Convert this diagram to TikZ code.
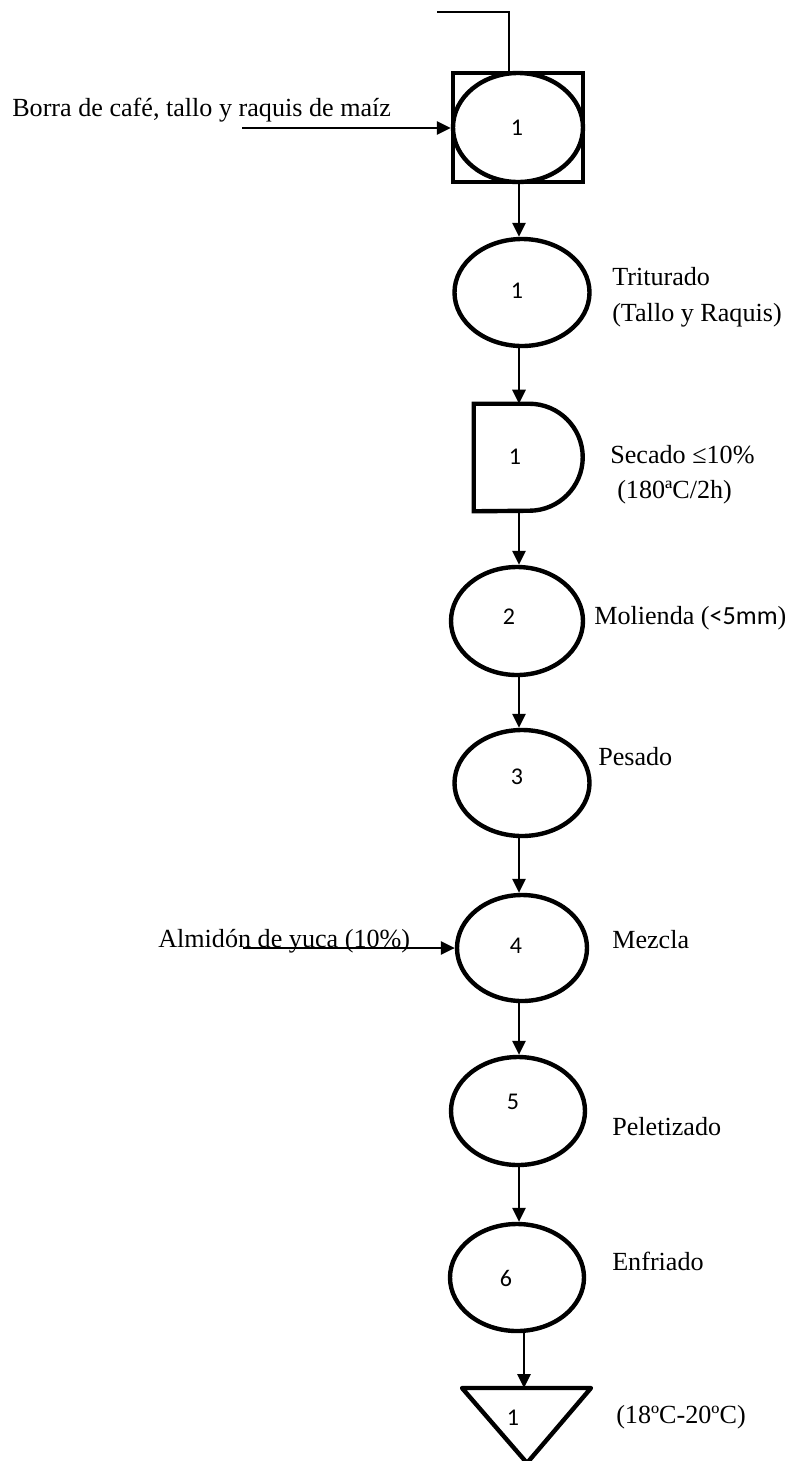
\documentclass[tikz,border=0pt]{standalone}
\usepackage{fontspec}
\setmainfont{Liberation Serif}
\newfontfamily\digitfont{Carlito}
\usetikzlibrary{shapes.geometric,arrows.meta}
\begin{document}
\begin{tikzpicture}[x=0.75pt,y=-0.75pt,
  shapeline/.style={draw, line width=3.3pt},
  opnode/.style={ellipse, shapeline, inner sep=0pt},
  num/.style={font=\digitfont\fontsize{18}{21}\selectfont, inner sep=0pt},
  note/.style={font=\fontsize{19.6}{24}\selectfont, inner sep=0pt, anchor=base west},
  flow/.style={line width=1.3pt, -{Triangle[length=10.5pt,width=10pt]}},
  thin/.style={line width=1.3pt},
]
\useasboundingbox (0,0) rectangle (795,1461);

% vertical guide lines for the connectors
\coordinate (spine) at (519,0);
\coordinate (spineb) at (524,0);
\coordinate (drop) at (509,0);

% combined operation: square with inscribed circle
\node[rectangle, shapeline, minimum width=97.5pt, minimum height=81.75pt, inner sep=0pt] (s0) at (518,127.5) {};
\node[opnode, minimum width=97.5pt, minimum height=81.75pt] (s0c) at (518,127.5) {};
\node[num] (n0) at (517,128) {1};

% operations
\node[opnode, minimum width=101.25pt, minimum height=80.25pt] (e1) at (522,292.5) {};
\node[num] (n1) at (517,291) {1};

% delay (D shape)
\node[minimum width=81.75pt, minimum height=80.25pt, inner sep=0pt] (d1) at (528.5,457.5) {};
\draw[shapeline] (d1.north west) -- ++(55.5,0) arc[start angle=90, end angle=-90, radius=40.125pt] -- (d1.south west) -- cycle;
\node[num] (nd) at (515,457) {1};

\node[opnode, minimum width=99pt, minimum height=81pt] (e2) at (517,621) {};
\node[num] (n2) at (509,617) {2};

\node[opnode, minimum width=101.25pt, minimum height=79.5pt] (e3) at (522,783) {};
\node[num] (n3) at (517,777) {3};

\node[opnode, minimum width=97.5pt, minimum height=79.5pt] (e4) at (522,948) {};
\node[num] (n4) at (516,946) {4};

\node[opnode, minimum width=100.5pt, minimum height=81pt] (e5) at (518,1111) {};
\node[num] (n5) at (513,1102) {5};

\node[opnode, minimum width=100.5pt, minimum height=80.25pt] (e6) at (517,1277.5) {};
\node[num] (n6) at (506,1278) {6};

% storage triangle
\coordinate (t1) at (526.5,1388);
\draw[shapeline, line join=round] (t1) ++(-64.5,0) -- ++(129,0) -- ++(-64,75) -- cycle;
\node[num] (nt) at (513,1418) {1};

% feed line at the top
\coordinate (feed) at (437,12);
\draw[thin] (feed) -| (drop |- s0.north);

% side inputs
\coordinate (in1) at (242,128);
\draw[flow] (in1) -- (in1 -| s0.west);
\coordinate (in2) at (243,948);
\draw[flow] (in2) -- (in2 -| e4.west);

% main flow
\draw[flow] (s0.south -| spine) -- (e1.north -| spine);
\draw[flow] (e1.south -| spine) -- (d1.north -| spine);
\draw[flow] (d1.south -| spine) -- (e2.north -| spine);
\draw[flow] (e2.south -| spine) -- (e3.north -| spine);
\draw[flow] (e3.south -| spine) -- (e4.north -| spine);
\draw[flow] (e4.south -| spine) -- (e5.north -| spine);
\draw[flow] (e5.south -| spine) -- (e6.north -| spine);
\draw[flow] (e6.south -| spineb) -- (t1 -| spineb);

% labels
\node[note] (l0) at (12,116) {Borra de café, tallo y raquis de maíz};
\node[note] (l1a) at (612,285) {Triturado};
\node[note] (l1b) at (612,321) {(Tallo y Raquis)};
\node[note] (l2a) at (610,463) {Secado ≤10\%};
\node[note] (l2b) at (617,498) {(180ªC/2h)};
\node[note] (l3) at (594,624) {Molienda ({\digitfont <5mm})};
\node[note] (l4) at (598,765) {Pesado};
\node[note] (l5in) at (158,947) {Almidón de yuca (10\%)};
\node[note] (l5) at (612,948) {Mezcla};
\node[note] (l6) at (612,1135) {Peletizado};
\node[note] (l7) at (612,1270) {Enfriado};
\node[note] (l8) at (616,1423) {(18ºC-20ºC)};
\end{tikzpicture}
\end{document}
